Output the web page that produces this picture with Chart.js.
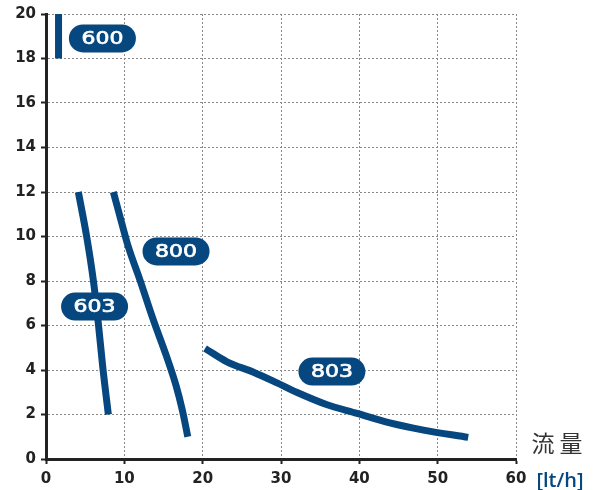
<!DOCTYPE html>
<html>
<head>
<meta charset="utf-8">
<script src="https://cdn.jsdelivr.net/npm/chart.js@4"></script>
<style>
  body { margin: 0; background: #fff; }
  canvas { display: block; }
</style>
</head>
<body>
<canvas id="pumpChart" width="600" height="490"></canvas>
<script>
// flow [lt/h] vs head
const flow600 = [1.6, 1.6];
const head600 = [18, 20];
const flow603 = [4.13, 5.19, 6.04, 6.68, 7.24, 7.96];
const head603 = [12, 10, 8.04, 6.1, 4.15, 2.0];
const flow800 = [8.6, 9.67, 10.5, 12.0, 13.7, 15.3, 16.6, 17.4, 18.1];
const head800 = [12, 10.6, 9.55, 8.04, 6.25, 4.7, 3.3, 2.2, 1.0];
const flow803 = [20.3, 23.1, 26.5, 29.5, 32.0, 35.8, 39.7, 43.9, 48.2, 53.9];
const head803 = [4.97, 4.37, 3.9, 3.42, 3.0, 2.45, 2.05, 1.62, 1.3, 0.97];

const pumpNames = ['600', '603', '800', '803'];
const labelFlow = [7.2, 6.2, 16.6, 36.5];
const labelHead = [18.9, 6.85, 9.33, 3.93];

const navy = '#06477f';

function pts(xs, ys) {
  return xs.map((x, i) => ({ x: x, y: ys[i] }));
}

function curve(name, xs, ys) {
  return {
    label: name,
    data: pts(xs, ys),
    borderColor: navy,
    borderWidth: 7,
    borderCapStyle: 'butt',
    pointRadius: 0,
    cubicInterpolationMode: 'monotone',
    fill: false
  };
}

// pill labels + axis caption
const pillLabels = {
  id: 'pillLabels',
  afterDatasetsDraw(chart) {
    const ctx = chart.ctx;
    const xs = chart.scales.x, ys = chart.scales.y;
    ctx.save();
    pumpNames.forEach((name, i) => {
      const cx = xs.getPixelForValue(labelFlow[i]);
      const cy = ys.getPixelForValue(labelHead[i]);
      const w = 67, h = 28, r = 14;
      ctx.fillStyle = navy;
      ctx.beginPath();
      ctx.roundRect(cx - w / 2, cy - h / 2, w, h, r);
      ctx.fill();
      ctx.save();
      ctx.translate(cx, cy + 1);
      ctx.scale(1.22, 1);
      ctx.fillStyle = '#fff';
      ctx.strokeStyle = '#fff';
      ctx.lineWidth = 0.7;
      ctx.font = '18px "DejaVu Sans"';
      ctx.textAlign = 'center';
      ctx.textBaseline = 'middle';
      ctx.fillText(name, 0, 0);
      ctx.strokeText(name, 0, 0);
      ctx.restore();
    });

    ctx.fillStyle = '#333';
    ctx.font = '23px "Noto Sans CJK JP"';
    ctx.textAlign = 'center';
    ctx.textBaseline = 'alphabetic';
    ctx.fillText('流 量', 557, 452);
    ctx.fillStyle = navy;
    ctx.font = '600 20px "Open Sans"';
    ctx.fillText('[lt/h]', 560, 487);
    ctx.restore();
  }
};

const tickFont = { family: 'DejaVu Sans', size: 15, weight: 'bold' };
const gridOpts = {
  color: '#888',
  tickColor: '#222',
  tickBorderDash: [],
  tickLength: 5,
  tickWidth: 2
};

new Chart(document.getElementById('pumpChart'), {
  type: 'line',
  data: {
    datasets: [
      curve('600', flow600, head600),
      curve('603', flow603, head603),
      curve('800', flow800, head800),
      curve('803', flow803, head803)
    ]
  },
  options: {
    responsive: false,
    animation: false,
    layout: { padding: { top: 14, right: 84, left: 0, bottom: 0 } },
    plugins: { legend: { display: false }, tooltip: { enabled: false } },
    scales: {
      x: {
        type: 'linear',
        min: 0,
        max: 60,
        ticks: { stepSize: 10, padding: 6, color: '#222', font: tickFont },
        grid: gridOpts,
        border: { color: '#222', width: 3, dash: [2, 2] },
        afterFit(scale) { scale.height = 31; }
      },
      y: {
        min: 0,
        max: 20,
        ticks: { stepSize: 2, padding: 5, color: '#222', font: tickFont },
        grid: gridOpts,
        border: { color: '#222', width: 3, dash: [2, 2] },
        afterFit(scale) { scale.width = 46; }
      }
    }
  },
  plugins: [pillLabels]
});
</script>
</body>
</html>
